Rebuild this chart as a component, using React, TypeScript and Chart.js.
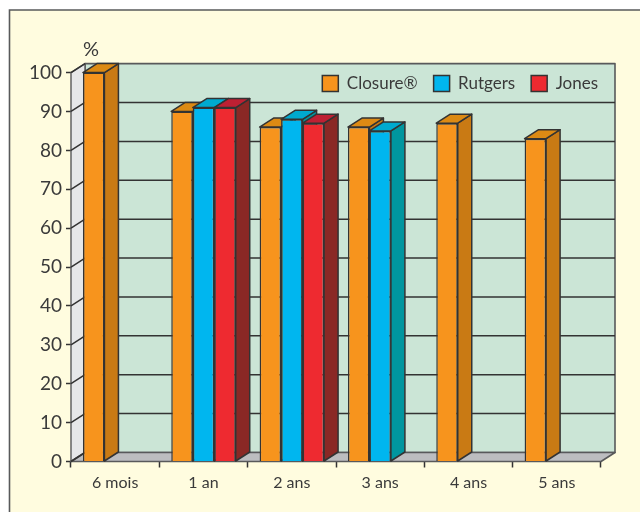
import React, { useEffect, useRef } from "react";
import { Chart, registerables } from "chart.js";

Chart.register(...registerables);

const categories = ["6 mois", "1 an", "2 ans", "3 ans", "4 ans", "5 ans"];
const closure = [100, 90, 86, 86, 87, 83];
const rutgers = [null, 91, 88, 85, null, null];
const jones = [null, 91, 87, null, null, null];

const DX = 14;
const DY = 9;
const INK = "#333333";
const TEXT = "#3a3a3a";
const FONT = "Lato, 'Open Sans', sans-serif";
const faces = [
  { front: "#F7941D", top: "#DC8A14", side: "#C97A14" },
  { front: "#00B6EF", top: "#00AACF", side: "#00969F" },
  { front: "#EE2A30", top: "#BE2033", side: "#8A2825" },
];

const poly = (ctx: CanvasRenderingContext2D, pts: number[][], fill: string | null, stroke: string | null, lw = 1.5) => {
  ctx.beginPath();
  pts.forEach(([x, y], i) => (i ? ctx.lineTo(x, y) : ctx.moveTo(x, y)));
  ctx.closePath();
  if (fill) { ctx.fillStyle = fill; ctx.fill(); }
  if (stroke) { ctx.strokeStyle = stroke; ctx.lineWidth = lw; ctx.lineJoin = "round"; ctx.stroke(); }
};

const framePlugin = {
  id: "frame3d",
  beforeLayout(chart: any) {
    const lg = chart.legend;
    if (lg) lg._layers = () => [{ z: 5, draw: (area: any) => lg.draw(area) }];
  },
  afterLayout(chart: any) {
    const lg = chart.legend;
    if (lg) {
      const w = lg.right - lg.left;
      lg.right = 614;
      lg.left = lg.right - w;
      const h = lg.bottom - lg.top;
      lg.top = 59;
      lg.bottom = lg.top + h;
    }
  },
  beforeDraw(chart: any) {
    const ctx = chart.ctx;
    ctx.save();
    ctx.fillStyle = "#FFFFFF";
    ctx.fillRect(0, 0, 640, 512);
    ctx.fillStyle = "#FFFCDF";
    ctx.strokeStyle = "#58595B";
    ctx.lineWidth = 1.6;
    ctx.beginPath();
    ctx.rect(9.5, 10, 700, 600);
    ctx.fill();
    ctx.stroke();
    ctx.restore();
  },
  beforeDatasetsDraw(chart: any) {
    const ctx = chart.ctx;
    const { left, right, top, bottom } = chart.chartArea;
    const y = chart.scales.y;
    ctx.save();
    // back wall, left wall, floor
    poly(ctx, [[left + DX, top - DY], [right + DX, top - DY], [right + DX, bottom - DY], [left + DX, bottom - DY]], "#CBE5D6", "#58595B", 1.6);
    poly(ctx, [[left, top], [left + DX, top - DY], [left + DX, bottom - DY], [left, bottom]], "#E6E7E9", "#58595B", 1.4);
    poly(ctx, [[left, bottom], [left + DX, bottom - DY], [right + DX, bottom - DY], [right, bottom]], "#BCBDC0", "#58595B", 1.6);
    // grid lines on the walls
    ctx.strokeStyle = INK;
    ctx.lineWidth = 1.5;
    y.ticks.forEach((t: any) => {
      const py = y.getPixelForValue(t.value);
      ctx.beginPath();
      ctx.moveTo(left, py);
      ctx.lineTo(left + DX, py - DY);
      if (t.value > 0 && t.value < 100) ctx.lineTo(right + DX, py - DY);
      ctx.stroke();
    });
    // side and top faces of the bars, left to right
    categories.forEach((_, j) => {
      chart.data.datasets.forEach((ds: any, i: number) => {
        if (ds.data[j] == null) return;
        const el = chart.getDatasetMeta(i).data[j];
        const x0 = el.x - el.width / 2;
        const x1 = el.x + el.width / 2;
        poly(ctx, [[x1, el.y], [x1 + DX, el.y - DY], [x1 + DX, el.base - DY], [x1, el.base]], faces[i].side, INK);
        poly(ctx, [[x0, el.y], [x0 + DX, el.y - DY], [x1 + DX, el.y - DY], [x1, el.y]], faces[i].top, INK);
      });
    });
    ctx.restore();
  },
  afterDraw(chart: any) {
    const ctx = chart.ctx;
    ctx.save();
    ctx.fillStyle = TEXT;
    ctx.font = `400 20px ${FONT}`;
    ctx.textAlign = "center";
    ctx.textBaseline = "alphabetic";
    ctx.fillText("%", 91, 56);
    ctx.restore();
  },
};

export default function App() {
  const ref = useRef<HTMLCanvasElement | null>(null);
  useEffect(() => {
    const chart = new Chart(ref.current as HTMLCanvasElement, {
      type: "bar",
      plugins: [framePlugin],
      data: {
        labels: categories,
        datasets: [
          { label: "Closure®", data: closure, backgroundColor: faces[0].front },
          { label: "Rutgers", data: rutgers, backgroundColor: faces[1].front },
          { label: "Jones", data: jones, backgroundColor: faces[2].front },
        ].map((d) => ({ ...d, borderColor: INK, borderWidth: 1.5, clip: false })) as any,
      },
      options: {
        responsive: false,
        animation: false,
        devicePixelRatio: 1,
        layout: { padding: { top: 29.6, right: 39, left: 0, bottom: 0 } },
        datasets: { bar: { barPercentage: 1, categoryPercentage: 0.73 } },
        plugins: {
          tooltip: { enabled: false },
          legend: {
            display: true,
            position: "top",
            align: "end",
            labels: {
              boxWidth: 16,
              boxHeight: 16,
              padding: 16,
              color: TEXT,
              font: { family: FONT, size: 17, weight: 400 },
            },
          },
        },
        scales: {
          x: {
            afterFit: (s: any) => { s.height = 50.5; },
            grid: { drawOnChartArea: false, drawTicks: true, tickLength: 6, tickColor: INK, tickWidth: 1.5 },
            border: { display: false },
            ticks: { color: TEXT, padding: 6, maxRotation: 0, font: { family: FONT, size: 16, weight: 400 } },
          },
          y: {
            min: 0,
            max: 100,
            afterFit: (s: any) => { s.width = 71; },
            grid: { drawOnChartArea: false, drawTicks: true, tickLength: 5, tickColor: INK, tickWidth: 1.5 },
            border: { display: false },
            ticks: { stepSize: 10, color: TEXT, padding: 4, font: { family: FONT, size: 19, weight: 400 } },
          },
        },
      } as any,
    });
    return () => chart.destroy();
  }, []);
  return (
    <div style={{ position: "fixed", left: 0, top: 0, width: 640, height: 512 }}>
      <canvas ref={ref} width={640} height={512} style={{ display: "block" }} />
    </div>
  );
}
